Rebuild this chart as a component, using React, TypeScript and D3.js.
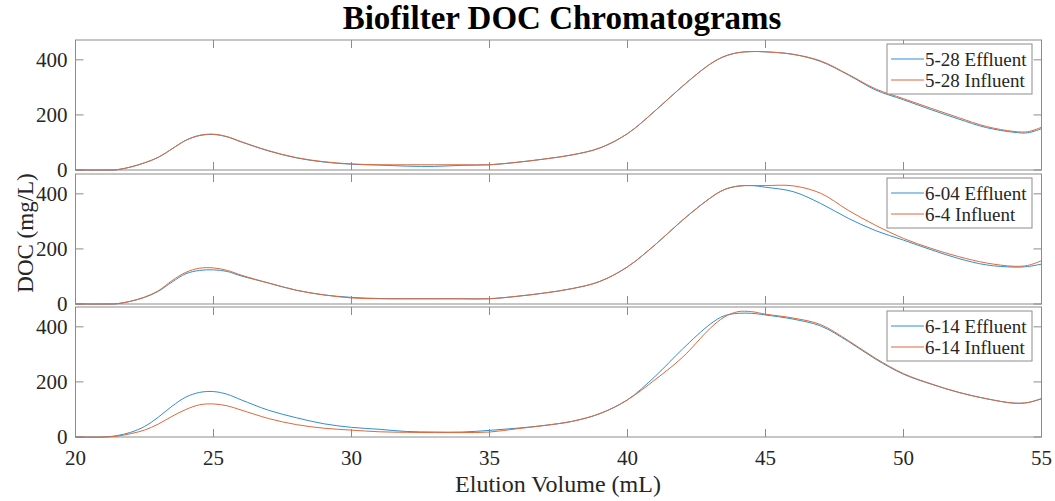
import React from 'react';
import * as d3 from 'd3';

// elution volume (mL), shared by all runs
const volume = [20, 21, 21.5, 22, 22.5, 23, 23.5, 24, 24.5, 25, 25.5, 26, 27, 28, 29, 30, 31, 32, 33, 34, 35, 36, 37, 38, 39, 40, 41, 42, 43, 43.5, 44, 44.5, 45, 46, 47, 48, 49, 50, 51, 52, 53, 54, 54.5, 55];

const eff528 = [0, 0, 1, 11, 26, 46, 77, 108, 125, 129, 120, 102, 69, 44, 29, 21, 18, 14, 13, 17, 19, 28, 40, 55, 80, 132, 215, 305, 385, 412, 426, 430, 429, 420, 394, 345, 290, 255, 219, 185, 154, 137, 135, 150];
const inf528 = [0, 0, 1, 11, 26, 46, 77, 108, 126, 130, 121, 103, 70, 45, 30, 22, 19, 19, 19, 19, 19, 28, 40, 55, 80, 132, 215, 305, 385, 412, 426, 430, 429, 420, 396, 347, 294, 259, 224, 190, 158, 140, 139, 155];

const eff604 = [0, 0, 1, 10, 24, 46, 80, 110, 122, 124, 118, 102, 76, 50, 33, 24, 20, 19, 19, 19, 19, 28, 40, 56, 82, 135, 215, 305, 385, 415, 428, 430, 424, 408, 365, 311, 266, 232, 197, 165, 142, 134, 136, 145];
const inf604 = [0, 0, 1, 10, 25, 48, 85, 115, 130, 131, 122, 105, 76, 50, 33, 22, 19, 19, 19, 19, 19, 28, 40, 56, 82, 135, 215, 305, 385, 415, 428, 430, 430, 429, 402, 340, 285, 238, 202, 172, 149, 137, 140, 157];

const eff614 = [0, 0, 5, 17, 38, 72, 112, 145, 162, 165, 155, 135, 97, 70, 48, 35, 28, 20, 18, 18, 24, 32, 42, 57, 85, 135, 220, 320, 410, 440, 449, 449, 443, 428, 403, 347, 282, 228, 192, 162, 139, 123, 125, 139];
const inf614 = [0, 0, 3, 12, 25, 47, 75, 100, 117, 120, 113, 98, 67, 45, 32, 25, 19, 17, 16, 16, 18, 30, 42, 57, 85, 135, 208, 290, 395, 435, 455, 455, 446, 432, 408, 350, 285, 230, 193, 162, 139, 123, 125, 139];

const runLabels = [
  ['5-28 Effluent', '5-28 Influent'],
  ['6-04 Effluent', '6-4 Influent'],
  ['6-14 Effluent', '6-14 Influent'],
];
const runValues = [
  [eff528, inf528],
  [eff604, inf604],
  [eff614, inf614],
];

const xTicks = [20, 25, 30, 35, 40, 45, 50, 55];
const yTicks = [0, 200, 400];

const W = 1055;
const H = 501;
const left = 75.5;
const right = 1041.5;
const panelTops = [40, 174, 307];
const panelH = 130;
const tickLen = 8;
const colors = ['#2f8fd0', '#e0683a'];
const axisColor = '#8c8c8c';
const textColor = '#262626';
const font = '"Liberation Serif", "Times New Roman", serif';

const x = d3.scaleLinear().domain([20, 55]).range([left, right]);

const Panel = ({ top, series, labels, last }: { top: number; series: number[][]; labels: string[]; last: boolean }) => {
  const y = d3.scaleLinear().domain([0, 472]).range([top + panelH, top]);
  const line = d3.line<number>()
    .x((_, i) => x(volume[i]))
    .y(d => y(d))
    .curve(d3.curveCatmullRom.alpha(0.5));
  const bottom = top + panelH;
  const lx = 887, ly = top + 4, lw = 145, lh = 50;

  return (
    <g>
      <rect x={left} y={top} width={right - left} height={panelH} fill="#fff" stroke={axisColor} strokeWidth={1} />
      {xTicks.map(t => (
        <g key={t}>
          <line x1={x(t)} x2={x(t)} y1={bottom} y2={bottom - tickLen} stroke={axisColor} />
          <line x1={x(t)} x2={x(t)} y1={top} y2={top + tickLen} stroke={axisColor} />
          {last && (
            <text x={x(t)} y={bottom + 28} textAnchor="middle" fontSize={21} fill={textColor} fontFamily={font}>{t}</text>
          )}
        </g>
      ))}
      {yTicks.map(t => (
        <g key={t}>
          <line x1={left} x2={left + tickLen} y1={y(t)} y2={y(t)} stroke={axisColor} />
          <line x1={right} x2={right - tickLen} y1={y(t)} y2={y(t)} stroke={axisColor} />
          <text x={left - 8} y={y(t)} dy="0.35em" textAnchor="end" fontSize={21} fill={textColor} fontFamily={font}>{t}</text>
        </g>
      ))}
      <g>
        {series.map((s, i) => (
          <path key={i} d={line(s) || ''} fill="none" stroke={colors[i]} strokeWidth={1} />
        ))}
      </g>
      <g>
        <rect x={lx} y={ly} width={lw} height={lh} fill="#fff" stroke={axisColor} />
        {labels.map((lab, i) => (
          <g key={lab} transform={`translate(0, ${ly + 15 + i * 21})`}>
            <line x1={lx + 4} x2={lx + 37} y1={0} y2={0} stroke={colors[i]} />
            <text x={lx + 38} y={0} dy="0.35em" fontSize={19} fill={textColor} fontFamily={font}>{lab}</text>
          </g>
        ))}
      </g>
    </g>
  );
};

export default function App() {
  return (
    <svg width={W} height={H} style={{ position: 'absolute', left: 0, top: 0, background: '#fff' }}>
      <text x={562} y={28.5} textAnchor="middle" fontSize={33} fontWeight="bold" fill="#000" fontFamily={font}>
        Biofilter DOC Chromatograms
      </text>
      {panelTops.map((t, i) => (
        <Panel key={i} top={t} series={runValues[i]} labels={runLabels[i]} last={i === panelTops.length - 1} />
      ))}
      <text x={558} y={492} textAnchor="middle" fontSize={24} fill={textColor} fontFamily={font}>Elution Volume (mL)</text>
      <text transform="translate(33, 233) rotate(-90)" textAnchor="middle" fontSize={23} fill={textColor} fontFamily={font}>DOC (mg/L)</text>
    </svg>
  );
}
